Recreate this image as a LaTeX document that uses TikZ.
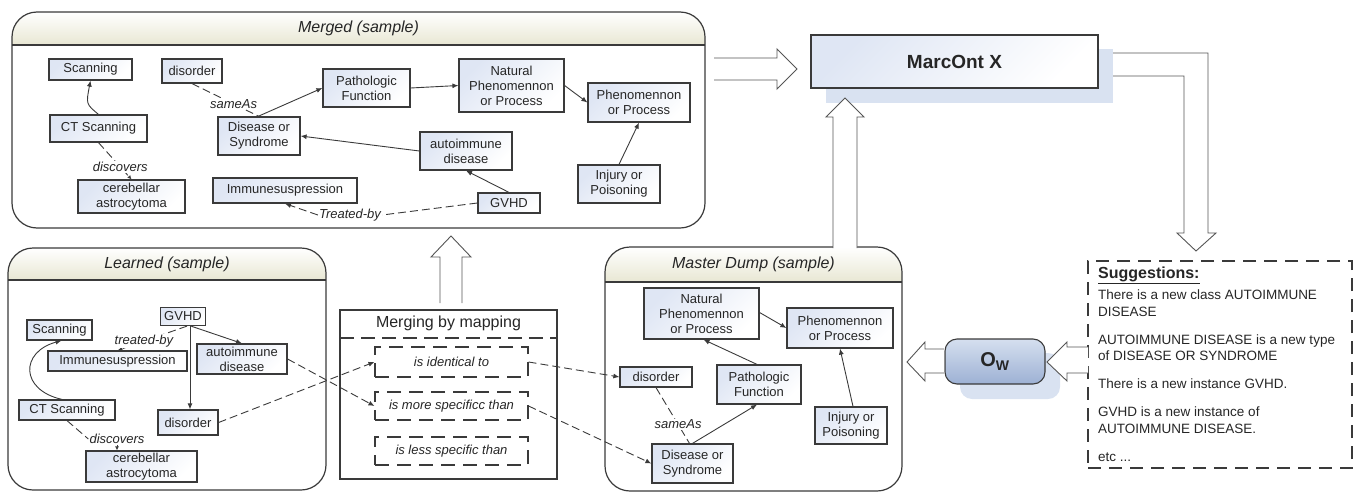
\documentclass[tikz,border=0pt]{standalone}
\usepackage{fontspec}
\setmainfont{Liberation Sans}
\usetikzlibrary{arrows.meta}
\definecolor{linec}{HTML}{3A3A3A}
\definecolor{txtc}{HTML}{262626}
\definecolor{boxc}{HTML}{DFE6F4}
\definecolor{bandc}{HTML}{E8E7D3}
\definecolor{shadowc}{HTML}{D9E2F1}
\definecolor{owtop}{HTML}{D5DFEF}
\definecolor{owbot}{HTML}{9DB1D4}
\definecolor{arrc}{HTML}{555555}
\begin{document}
\begin{tikzpicture}[x=1pt,y=-1pt,
  every node/.style={text=txtc},
  cls/.style={draw=linec, line width=1.2pt, top color=boxc, bottom color=white, shading angle=45, align=center, inner sep=1pt, font=\fontsize{13}{15}\selectfont},
  panel/.style={draw=linec, line width=1.2pt, rounded corners=25pt, inner sep=0pt},
  band/.style={top color=white, bottom color=bandc},
  ptitle/.style={font=\fontsize{16}{18}\selectfont\itshape},
  lbl/.style={font=\fontsize{13}{15}\selectfont\itshape, fill=white, inner sep=1pt},
  con/.style={draw=linec, line width=0.9pt},
  arr/.style={con, -{Latex[length=6pt,width=5pt]}},
  dsh/.style={dash pattern=on 8pt off 4pt},
  rel/.style={draw=linec, line width=1.1pt, dash pattern=on 14pt off 8pt, font=\fontsize{13}{15}\selectfont\itshape, inner sep=1pt},
  hollow/.style={draw=arrc, line width=0.9pt, fill=white, line join=miter},
]
\useasboundingbox (0,0) rectangle (1353,493);

% ---------------- Merged panel ----------------
\begin{scope}
\clip[rounded corners=25pt] (12,12) rectangle (705,228);
\fill[band] (12,12) rectangle (705,45);
\end{scope}
\node[panel, minimum width=693pt, minimum height=216pt] (merged) at (358.5,120) {};
\draw[con, line width=1.1pt] (12,45) -- (705,45);
\node[ptitle] (mtitle) at (358.5,28) {Merged (sample)};

\node[cls, minimum width=83pt, minimum height=21pt] (mScan) at (90.5,69.5) {Scanning};
\node[cls, minimum width=60pt, minimum height=24pt] (mDis) at (192,71) {disorder};
\node[cls, minimum width=97pt, minimum height=27pt] (mCT) at (98.5,128.5) {CT Scanning};
\node[cls, minimum width=107pt, minimum height=33pt] (mCer) at (131.5,196.5) {cerebellar\\astrocytoma};
\node[cls, minimum width=82pt, minimum height=38pt] (mDisease) at (259,136) {Disease or\\Syndrome};
\node[cls, minimum width=144pt, minimum height=25pt] (mImm) at (285,190.5) {Immunesuspression};
\node[cls, minimum width=87pt, minimum height=38pt] (mPath) at (366.5,88) {Pathologic\\Function};
\node[cls, minimum width=105pt, minimum height=53pt] (mNat) at (511.5,85.5) {Natural\\Phenomennon\\or Process};
\node[cls, minimum width=102pt, minimum height=39pt] (mPhen) at (639,102.5) {Phenomennon\\or Process};
\node[cls, minimum width=92pt, minimum height=38pt] (mAuto) at (466,151) {autoimmune\\disease};
\node[cls, minimum width=62pt, minimum height=20pt] (mGVHD) at (509,203) {GVHD};
\node[cls, minimum width=82pt, minimum height=38pt] (mInj) at (619,184) {Injury or\\Poisoning};

\draw[arr] (mCT.north) .. controls (86,104) .. (mScan.south);
\draw[con, dsh, -{Latex[length=4pt,width=4pt]}] (mCT.south) -- node[lbl, pos=0.66] {discovers} (mCer.north);
\draw[con, dsh] (mDis.south) -- node[lbl, pos=0.62] {sameAs} (mDisease.north);
\draw[arr] ([xshift=-1pt]mDisease.north) -- (mPath.west);
\draw[arr] (mPath.east) -- (mNat.west);
\draw[arr] (mNat.east) -- (mPhen.west);
\draw[arr] (mAuto.west) -- (mDisease.east);
\draw[arr] (mGVHD.north) -- (mAuto.south);
\draw[arr] (mInj.north) -- (mPhen.south);
\node[lbl] (mtb) at (350,215) {Treated-by};
\draw[con, dsh] (mGVHD.west) -- (mtb.east);
\draw[con, dsh, -{Latex[length=6pt,width=5pt]}] (mtb.west) -- (mImm.south);

% ---------------- Learned panel ----------------
\begin{scope}
\clip[rounded corners=25pt] (8,248) rectangle (326,490);
\fill[band] (8,248) rectangle (326,280);
\end{scope}
\node[panel, minimum width=318pt, minimum height=242pt] (learned) at (167,369) {};
\draw[con, line width=1.1pt] (8,280) -- (326,280);
\node[ptitle] (ltitle) at (167,264) {Learned (sample)};

\node[cls, minimum width=45pt, minimum height=18pt] (lGVHD) at (183,316.5) {GVHD};
\node[cls, minimum width=65pt, minimum height=20pt] (lScan) at (59.5,330) {Scanning};
\node[cls, minimum width=139pt, minimum height=20pt] (lImm) at (117.5,361) {Immunesuspression};
\node[cls, minimum width=90pt, minimum height=30pt] (lAuto) at (242,359) {autoimmune\\disease};
\node[cls, minimum width=96pt, minimum height=20pt] (lCT) at (67,410) {CT Scanning};
\node[cls, minimum width=60pt, minimum height=25pt] (lDis) at (188,422.5) {disorder};
\node[cls, minimum width=111pt, minimum height=31pt] (lCer) at (141.5,466.5) {cerebellar\\astrocytoma};

\draw[arr] ([xshift=8pt]lGVHD.south) -- (lAuto.north);
\draw[arr] ([xshift=7pt]lGVHD.south) -- ([xshift=2pt]lDis.north);
\draw[con, dsh, -{Latex[length=5pt,width=4pt]}] ([xshift=4pt]lGVHD.south) -- node[lbl, pos=0.62] {treated-by} (lImm.north);
\draw[arr] ([xshift=-5pt]lCT.north) .. controls (20,390) and (20,352) .. ([xshift=2pt]lScan.south);
\node[lbl] (ldisc) at (117,439) {discovers};
\draw[con, dsh] (lCT.south) -- (ldisc.west);
\draw[con, -{Latex[length=4pt,width=4pt]}] (ldisc.south) -- (ldisc.south |- lCer.north);

% ---------------- Master Dump panel ----------------
\begin{scope}
\clip[rounded corners=25pt] (605,247) rectangle (902,491);
\fill[band] (605,247) rectangle (902,282);
\end{scope}
\node[panel, minimum width=297pt, minimum height=244pt] (master) at (753.5,369) {};
\draw[con, line width=1.1pt] (605,282) -- (902,282);
\node[ptitle] (dtitle) at (753.5,264) {Master Dump (sample)};

\node[cls, minimum width=115pt, minimum height=51pt] (dNat) at (701.5,313.5) {Natural\\Phenomennon\\or Process};
\node[cls, minimum width=106pt, minimum height=40pt] (dPhen) at (840,328) {Phenomennon\\or Process};
\node[cls, minimum width=72pt, minimum height=20pt] (dDis) at (656,377) {disorder};
\node[cls, minimum width=84pt, minimum height=39pt] (dPath) at (759,384.5) {Pathologic\\Function};
\node[cls, minimum width=81pt, minimum height=39pt] (dDisease) at (692.5,463.5) {Disease or\\Syndrome};
\node[cls, minimum width=72pt, minimum height=37pt] (dInj) at (851,425.5) {Injury or\\Poisoning};

\draw[arr] ([yshift=1pt]dNat.east) -- (dPhen.west);
\draw[arr] ([xshift=-2pt]dPath.north) -- ([xshift=2pt]dNat.south);
\draw[arr] (dDisease.north) -- ([xshift=-2pt]dPath.south);
\draw[arr] ([xshift=2pt]dInj.north) -- (dPhen.south);
\draw[con, dsh] (dDis.south) -- node[lbl, pos=0.66] {sameAs} ([xshift=-3pt]dDisease.north);

% ---------------- Merging by mapping ----------------
\node[draw=linec, line width=1.1pt, minimum width=217pt, minimum height=169pt, inner sep=0pt] (merging) at (448.5,394.5) {};
\node[font=\fontsize{16}{18}\selectfont] (mergt) at (448.5,323) {Merging by mapping};
\draw[con, line width=1.1pt, dash pattern=on 14pt off 7pt] (340,338) -- (557,338);
\node[rel, minimum width=153pt, minimum height=30pt] (r1) at (451.5,362) {is identical to};
\node[rel, minimum width=153pt, minimum height=28pt] (r2) at (451.5,406) {is more specificc than};
\node[rel, minimum width=153pt, minimum height=28pt] (r3) at (451.5,451) {is less specific than};

\draw[con, dsh, -{Latex[length=6pt,width=5pt]}] (lDis.east) -- (r1.west);
\draw[con, dsh, -{Latex[length=6pt,width=5pt]}] (lAuto.east) -- (r2.west);
\draw[con, dsh, -{Latex[length=6pt,width=5pt]}] (r1.east) -- (dDis.west);
\draw[con, dsh, -{Latex[length=6pt,width=5pt]}] (r2.east) -- (dDisease.west);

% ---------------- MarcOnt X ----------------
\fill[shadowc] (826,49) rectangle (1113,103);
\node[draw=linec, line width=1.1pt, top color=boxc, bottom color=white, shading angle=45, minimum width=287pt, minimum height=53pt, font=\fontsize{19}{21}\selectfont\bfseries] (marc) at (954.5,61.5) {MarcOnt X};

% ---------------- O_W ----------------
\fill[shadowc, rounded corners=12pt] (960,353) rectangle (1060,399);
\node[draw=linec, line width=1.1pt, rounded corners=12pt, top color=owtop, bottom color=owbot, minimum width=100pt, minimum height=45pt, font=\fontsize{20}{22}\selectfont\bfseries] (ow) at (995,361.5) {O\textsubscript{W}};

% ---------------- Suggestions ----------------
\node[draw=linec, line width=1.1pt, dash pattern=on 13pt off 8pt, minimum width=264pt, minimum height=207pt, inner sep=0pt] (sug) at (1220,364.5) {};
\node[anchor=north west, align=left, inner sep=0pt, font=\fontsize{13.5}{16.5}\selectfont] (sugtext) at (1098,267) {%
{\fontsize{16}{18}\selectfont\bfseries\underline{Suggestions:}}\\[4.5pt]
There is a new class AUTOIMMUNE\\
DISEASE\\[11.5pt]
AUTOIMMUNE DISEASE is a new type\\
of DISEASE OR SYNDROME\\[11.5pt]
There is a new instance GVHD.\\[11.5pt]
GVHD is a new instance of\\
AUTOIMMUNE DISEASE.\\[11.5pt]
etc ...};

% ---------------- hollow block arrows ----------------
% Merged -> MarcOnt
\draw[hollow] (714,58) -- (777,58) -- (777,49) -- (797,69) -- (777,89) -- (777,80) -- (714,80);
% Merging -> Merged
\draw[hollow] (440,303) -- (440,257) -- (431,257) -- (451,236) -- (471,257) -- (462,257) -- (462,303);
% Master Dump -> MarcOnt
\draw[hollow] (833,248) -- (833,117) -- (826,117) -- (845,98) -- (864,117) -- (857,117) -- (857,248);
% MarcOnt -> Suggestions
\draw[hollow] (1113,53) -- (1208,53) -- (1208,233) -- (1216,233) -- (1196,251) -- (1177,233) -- (1184,233) -- (1184,76) -- (1113,76);
% Suggestions -> O_W
\draw[hollow] (1088,347) -- (1067,347) -- (1067,342) -- (1047,362) -- (1067,381) -- (1067,373) -- (1088,373);
% O_W -> Master Dump
\draw[hollow] (944,349) -- (925,349) -- (925,342) -- (907,362) -- (925,381) -- (925,373) -- (944,373);
\end{tikzpicture}
\end{document}
